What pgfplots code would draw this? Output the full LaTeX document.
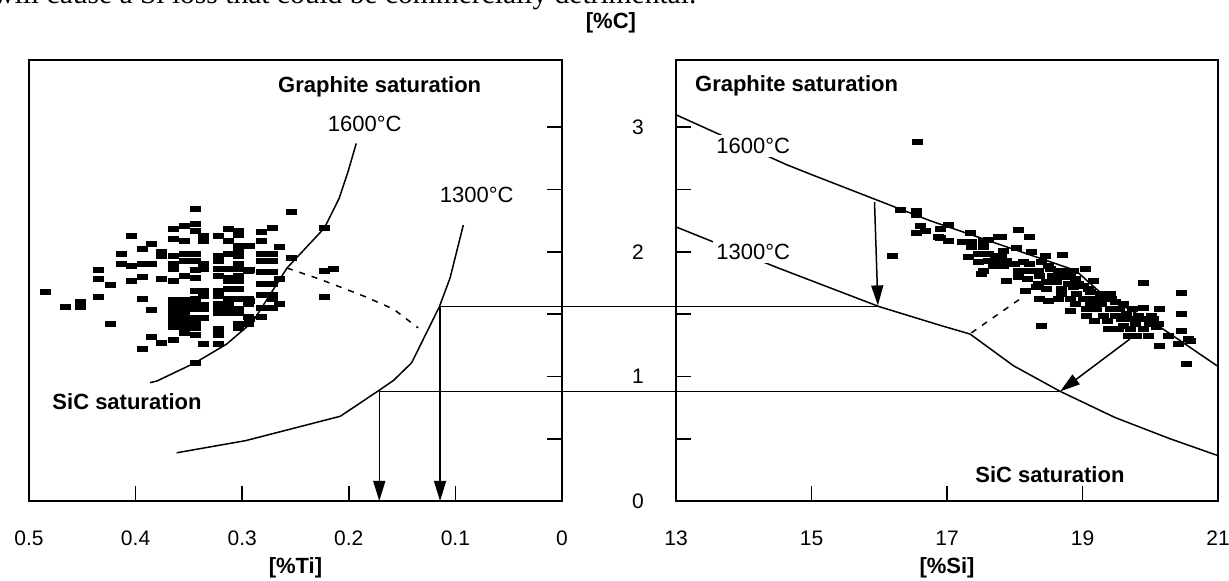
\documentclass[border=0pt]{standalone}
\usepackage{pgfplots}
\pgfplotsset{compat=1.18}
\usetikzlibrary{arrows.meta}
\usepackage{fontspec}
\setmainfont{Liberation Sans}
\newfontfamily\serifbody{Liberation Serif}

\tikzset{
  lbl/.style={font=\fontsize{11}{13}\selectfont, fill=white, inner sep=1.5pt},
  arr/.style={-{Triangle[length=10pt,width=6pt]}, line width=0.75pt},
}
\pgfplotsset{
  myaxis/.style={
    scale only axis, anchor=south west,
    height=220.5pt, ymin=0, ymax=3.54,
    axis line style={line width=1pt},
    tick style={line width=0.8pt, black},
    major tick length=7.5pt,
    tick align=inside,
    clip=false,
    font=\fontsize{11}{13}\selectfont,
    ticklabel style={font=\fontsize{10.5}{12}\selectfont},
    /pgf/number format/assume math mode=true,
    xticklabel style={anchor=center, yshift=-18.5pt},
    xlabel style={font=\fontsize{11}{13}\selectfont\bfseries, at={(axis description cs:0.5,0)}, anchor=center, yshift=-33.5pt},
  },
  sq/.style={only marks, mark=square*, mark size=1.25pt, mark options={xscale=2, fill=black, draw=none}},
  crv/.style={line width=0.75pt, black, mark=none},
}

\begin{document}
\begin{tikzpicture}
% ---------------- left axis: [%Ti] ----------------
\begin{axis}[myaxis, at={(14.5pt,40pt)}, width=266.5pt,
  xmin=0, xmax=0.5, x dir=reverse,
  xtick={0,0.1,0.2,0.3,0.4,0.5}, xticklabels={0,0.1,0.2,0.3,0.4,0.5},
  xtick pos=left, ytick pos=right,
  ytick={0,0.5,1,1.5,2,2.5,3}, yticklabels={},
  xlabel={[\%Ti]}]
\addplot[crv] coordinates {(0.193,2.87)(0.2005,2.65)(0.209,2.43)(0.223,2.19)(0.258,1.87)(0.290,1.44)(0.3145,1.26)(0.344,1.11)(0.380,0.963)(0.3865,0.95)};
\addplot[crv] coordinates {(0.0926,2.215)(0.105,1.79)(0.115,1.56)(0.141,1.11)(0.158,0.968)(0.173,0.88)(0.208,0.68)(0.297,0.484)(0.3615,0.387)};
\addplot[crv, dash pattern=on 3pt off 3.5pt] coordinates {(0.258,1.87)(0.227,1.78)(0.186,1.645)(0.158,1.54)(0.135,1.39)};
\addplot[sq] table {
x y
0.344 2.346
0.354 2.212
0.344 2.226
0.365 2.185
0.313 2.185
0.304 2.167
0.344 2.167
0.304 2.135
0.404 2.127
0.336 2.127
0.322 2.127
0.365 2.105
0.354 2.086
0.336 2.086
0.313 2.086
0.385 2.065
0.294 2.046
0.304 2.046
0.394 2.025
0.376 1.998
0.304 2.006
0.413 1.985
0.376 1.966
0.365 1.966
0.354 1.985
0.344 1.985
0.322 1.966
0.313 1.985
0.304 1.966
0.413 1.905
0.404 1.886
0.394 1.905
0.385 1.905
0.365 1.905
0.354 1.926
0.344 1.926
0.336 1.905
0.322 1.926
0.304 1.905
0.435 1.859
0.365 1.867
0.344 1.851
0.336 1.867
0.322 1.867
0.313 1.867
0.304 1.867
0.294 1.846
0.435 1.784
0.404 1.765
0.394 1.798
0.376 1.779
0.365 1.765
0.354 1.806
0.344 1.787
0.322 1.806
0.313 1.787
0.304 1.806
0.424 1.731
0.313 1.765
0.304 1.765
0.485 1.677
0.344 1.685
0.336 1.685
0.322 1.685
0.313 1.704
0.304 1.704
0.435 1.637
0.394 1.624
0.365 1.618
0.354 1.618
0.344 1.626
0.336 1.645
0.322 1.645
0.313 1.626
0.304 1.626
0.294 1.626
0.452 1.597
0.365 1.578
0.354 1.578
0.344 1.584
0.336 1.578
0.322 1.584
0.313 1.584
0.294 1.584
0.466 1.557
0.452 1.557
0.365 1.551
0.354 1.538
0.344 1.538
0.336 1.538
0.322 1.538
0.313 1.538
0.304 1.538
0.385 1.530
0.365 1.511
0.354 1.511
0.322 1.511
0.313 1.511
0.304 1.511
0.294 1.477
0.365 1.471
0.354 1.471
0.344 1.471
0.336 1.471
0.424 1.418
0.365 1.431
0.354 1.431
0.344 1.418
0.304 1.418
0.294 1.418
0.365 1.396
0.354 1.391
0.344 1.391
0.322 1.378
0.304 1.391
0.354 1.351
0.344 1.332
0.322 1.337
0.385 1.321
0.376 1.271
0.365 1.297
0.336 1.257
0.322 1.257
0.394 1.217
0.344 1.110
0.293 2.046
0.293 1.859
0.293 1.605
0.293 1.458
0.282 2.161
0.282 2.086
0.282 1.985
0.282 1.926
0.282 1.840
0.282 1.739
0.282 1.658
0.282 1.550
0.282 1.476
0.272 2.193
0.272 1.985
0.272 1.926
0.272 1.840
0.272 1.739
0.272 1.658
0.272 1.626
0.272 1.551
0.265 2.041
0.265 1.779
0.265 1.586
0.254 2.319
0.254 1.953
0.223 2.193
0.223 1.846
0.214 1.867
0.223 1.640
};
\draw[arr] (axis cs:0.1144,1.56) -- (axis cs:0.1144,0);
\draw[arr] (axis cs:0.1714,0.88) -- (axis cs:0.1714,0);
\coordinate (H1) at (axis cs:0.1144,1.56);
\coordinate (H2) at (axis cs:0.1714,0.88);
\node[lbl, font=\fontsize{11}{13}\selectfont\bfseries] at (axis cs:0.171,3.325) {Graphite saturation};
\node[lbl] at (axis cs:0.185,3.03) {1600°C};
\node[lbl] at (axis cs:0.080,2.456) {1300°C};
\node[lbl, font=\fontsize{11}{13}\selectfont\bfseries] at (axis cs:0.408,0.80) {SiC saturation};
\end{axis}

% ---------------- right axis: [%Si] ----------------
\begin{axis}[myaxis, at={(338pt,40pt)}, width=271pt,
  xmin=13, xmax=21,
  xtick={13,15,17,19,21},
  xtick pos=left, ytick pos=left,
  ytick={0,0.5,1,1.5,2,2.5,3}, yticklabels={0,,1,,2,,3},
  yticklabel style={anchor=center, xshift=-19pt},
  xlabel={[\%Si]}]
\addplot[crv] coordinates {(13,3.10)(14.63,2.70)(15.0,2.62)(16.75,2.25)(18.9,1.85)(19.26,1.675)(20.19,1.38)(21,1.08)};
\addplot[crv] coordinates {(13,2.20)(14.51,1.87)(16.0,1.56)(16.9,1.41)(17.34,1.34)(17.98,1.086)(18.67,0.88)(19.48,0.67)(20.29,0.50)(21,0.364)};
\addplot[crv, dash pattern=on 3pt off 3.5pt] coordinates {(17.36,1.35)(18.1,1.63)};
\addplot[sq] table {
x y
17.02 2.215
16.90 2.183
16.87 2.116
17.02 2.090
17.34 2.151
18.05 2.175
17.22 2.076
17.36 2.076
17.54 2.090
17.61 2.098
17.76 2.116
17.81 2.116
18.22 2.116
17.36 2.036
17.54 2.036
18.03 2.028
17.32 1.956
17.46 1.983
17.61 1.983
17.71 1.969
17.81 1.969
17.83 2.009
18.25 1.996
18.45 1.964
18.71 1.975
17.46 1.916
17.61 1.929
17.71 1.916
17.88 1.929
18.00 1.902
18.13 1.916
18.22 1.902
18.40 1.916
18.50 1.889
17.54 1.849
17.51 1.822
17.68 1.889
17.83 1.889
18.05 1.849
18.20 1.849
18.35 1.849
18.52 1.862
18.64 1.849
18.74 1.849
18.86 1.849
19.04 1.867
17.88 1.769
18.05 1.795
18.18 1.782
18.37 1.809
18.55 1.809
18.69 1.795
18.82 1.795
18.89 1.782
18.35 1.742
18.47 1.755
18.62 1.755
18.79 1.742
18.94 1.742
19.16 1.769
18.15 1.688
18.32 1.715
18.47 1.702
18.69 1.702
18.86 1.715
19.01 1.728
19.09 1.702
18.69 1.661
18.91 1.661
19.11 1.675
19.26 1.661
19.41 1.661
18.37 1.621
18.50 1.608
18.64 1.621
18.82 1.621
19.01 1.621
19.16 1.621
19.31 1.621
19.43 1.621
19.90 1.747
20.46 1.670
18.89 1.581
19.11 1.581
19.28 1.581
19.48 1.595
19.60 1.581
18.82 1.528
19.06 1.541
19.21 1.541
19.41 1.541
19.55 1.541
19.73 1.541
19.90 1.547
20.13 1.541
19.06 1.488
19.31 1.488
19.48 1.488
19.65 1.501
19.82 1.488
20.02 1.488
20.46 1.501
19.18 1.448
19.36 1.448
19.58 1.461
19.73 1.461
19.87 1.461
20.05 1.461
18.40 1.402
19.60 1.407
19.78 1.421
19.99 1.421
20.12 1.421
19.38 1.381
19.53 1.381
19.70 1.381
19.90 1.381
20.09 1.394
20.46 1.367
19.68 1.327
19.80 1.322
19.97 1.327
20.27 1.327
20.14 1.247
20.41 1.260
20.59 1.287
20.56 1.300
20.53 1.100
16.56 2.884
16.31 2.336
16.55 2.33
16.55 2.30
16.60 2.21
16.55 2.156
16.68 2.17
16.90 2.108
16.20 1.969
};
\draw[arr] (axis cs:15.93,2.40) -- (axis cs:15.98,1.57);
\draw[arr] (axis cs:19.70,1.30) -- (axis cs:18.67,0.88);
\coordinate (R1) at (axis cs:16.0,1.56);
\coordinate (R2) at (axis cs:18.67,0.88);
\node[lbl, font=\fontsize{11}{13}\selectfont\bfseries] at (axis cs:14.78,3.33) {Graphite saturation};
\node[lbl] at (axis cs:14.14,2.85) {1600°C};
\node[lbl] at (axis cs:14.14,2.00) {1300°C};
\node[lbl, font=\fontsize{11}{13}\selectfont\bfseries, anchor=east] at (axis cs:19.67,0.21) {SiC saturation};
\node[font=\fontsize{11}{13}\selectfont\bfseries] at (rel axis cs:-0.12,1.084) {[\%C]};
\end{axis}

\draw[line width=0.75pt] (H1) -- (R1);
\draw[line width=0.75pt] (H2) -- (R2);

\node[anchor=base west, inner sep=0pt, font=\serifbody\fontsize{14.75}{17}\selectfont] at (-3.5pt,288.75pt) {will cause a Si loss that could be commercially detrimental.};

\pgfresetboundingbox
\useasboundingbox (0,0) rectangle (614.5pt,290.5pt);
\end{tikzpicture}
\end{document}
